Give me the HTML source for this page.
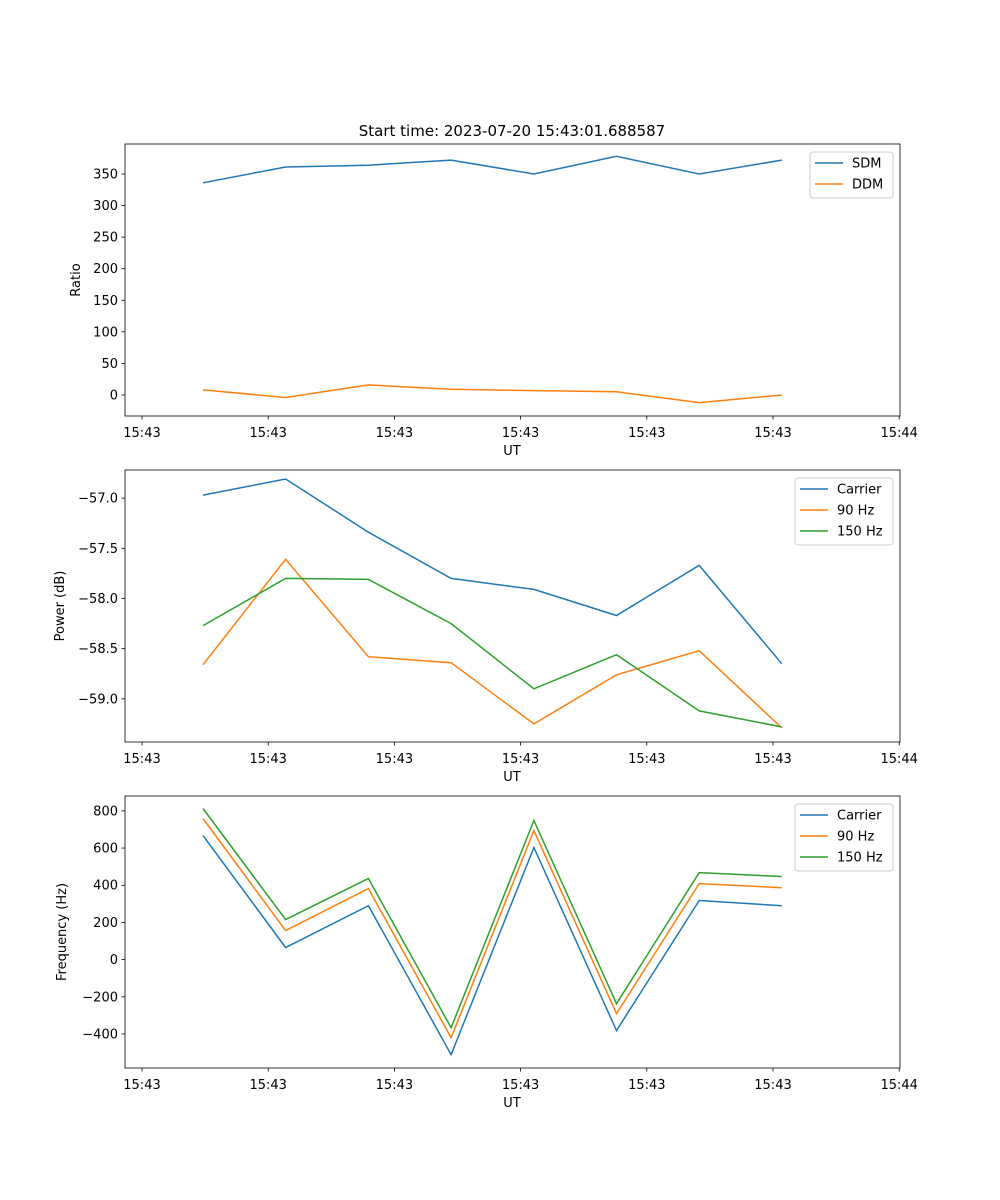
<!DOCTYPE html>
<html><head><meta charset="utf-8"><style>
html,body{margin:0;padding:0;background:#fff;}
svg{display:block;font-family:"DejaVu Sans","Liberation Sans",sans-serif;}
</style></head><body>
<svg id="fig" width="1000" height="1200" xmlns="http://www.w3.org/2000/svg">
<text x="512" y="136" text-anchor="middle" font-size="15">Start time: 2023-07-20 15:43:01.688587</text>
</svg>
<script>
const times = [4.83, 11.38, 17.94, 24.49, 31.05, 37.6, 44.15, 50.7];
const xTickVals = [0, 10, 20, 30, 40, 50, 60];
const xTickLabels = ["15:43","15:43","15:43","15:43","15:43","15:43","15:44"];
const sdm = [336, 361, 364, 372, 350, 378, 350, 372];
const ddm = [8, -4, 16, 9, 7, 5, -12, 0];
const pwrCarrier = [-56.97, -56.81, -57.34, -57.80, -57.91, -58.17, -57.67, -58.65];
const pwr90 = [-58.66, -57.61, -58.58, -58.64, -59.25, -58.76, -58.52, -59.29];
const pwr150 = [-58.27, -57.80, -57.81, -58.25, -58.90, -58.56, -59.12, -59.28];
const frqCarrier = [667, 65, 290, -511, 603, -382, 318, 290];
const frq90 = [759, 156, 382, -420, 694, -291, 409, 387];
const frq150 = [813, 215, 436, -366, 748, -237, 468, 447];
const yTicks1 = [0,50,100,150,200,250,300,350];
const yTicks2 = [-59.0,-58.5,-58.0,-57.5,-57.0];
const yTicks3 = [-400,-200,0,200,400,600,800];

const NS="http://www.w3.org/2000/svg";
const svg=document.getElementById('fig');
function el(tag,attrs,parent){const e=document.createElementNS(NS,tag);for(const k in attrs)e.setAttribute(k,attrs[k]);(parent||svg).appendChild(e);return e;}
const L=125,R=900;
const xScale=t=>142+t*12.62;
const colors=['#1f77b4','#ff7f0e','#2ca02c'];
function fmt(v,dec){return (v<0?'\u2212':'')+Math.abs(v).toFixed(dec);}

function panel(id,top,bottom,ymin,ymax,yTicks,dec,ylabel,series,names,leg){
  const g=el('g',{});
  
  
  const ys=v=>bottom-(v-ymin)/(ymax-ymin)*(bottom-top);
  series.forEach((s,si)=>{
    const pts=s.map((v,i)=>xScale(times[i]).toFixed(1)+','+ys(v).toFixed(1)).join(' ');
    const pl=el('polyline',{points:pts,fill:'none',stroke:colors[si],'stroke-width':1.5},g);
    
    
  });
  const fr=el('rect',{x:L,y:top,width:R-L,height:bottom-top,fill:'none',stroke:'#000','stroke-width':0.8},g);
  
  
  xTickVals.forEach((t,i)=>{
    const x=xScale(t);
    el('line',{x1:x,x2:x,y1:bottom,y2:bottom+3.5,stroke:'#000','stroke-width':0.8},g);
    const tx=el('text',{x:x,y:bottom+21,'text-anchor':'middle','font-size':13},g);
    tx.textContent=xTickLabels[i];
    
    
  });
  yTicks.forEach(v=>{
    const y=ys(v);
    el('line',{x1:L-3.5,x2:L,y1:y,y2:y,stroke:'#000','stroke-width':0.8},g);
    const tx=el('text',{x:L-7,y:y+4.5,'text-anchor':'end','font-size':13},g);
    tx.textContent=fmt(v,dec);
    
    
  });
  const xl=el('text',{x:512,y:bottom+39,'text-anchor':'middle','font-size':13},g);
  xl.textContent='UT';
  
  
  const cy=(top+bottom)/2;
  const yl=el('text',{x:0,y:0,'text-anchor':'middle','font-size':13,transform:`translate(${leg.yl},${cy}) rotate(-90)`},g);
  yl.textContent=ylabel;
  
  
  const lg=el('g',{},g);
  
  
  el('rect',{x:leg.x,y:top+8,width:893-leg.x,height:names.length*21+4,rx:3,fill:'#fff','fill-opacity':0.8,stroke:'#ccc','stroke-width':1},lg);
  names.forEach((n,i)=>{
    const y=top+19+i*21;
    el('line',{x1:leg.x+5,x2:leg.x+33,y1:y,y2:y,stroke:colors[i],'stroke-width':1.5},lg);
    const tx=el('text',{x:leg.x+42,y:y+4.5,'font-size':13},lg);
    tx.textContent=n;
    
    
  });
}
panel('ratio',144,416,-33.3,397.5,yTicks1,0,'Ratio',[sdm,ddm],['SDM','DDM'],{x:810,yl:80});
panel('power',470,742,-59.43,-56.72,yTicks2,1,'Power (dB)',[pwrCarrier,pwr90,pwr150],['Carrier','90 Hz','150 Hz'],{x:795,yl:64});
panel('frequency',796,1068,-583,880,yTicks3,0,'Frequency (Hz)',[frqCarrier,frq90,frq150],['Carrier','90 Hz','150 Hz'],{x:795,yl:66});
</script>
</body></html>
